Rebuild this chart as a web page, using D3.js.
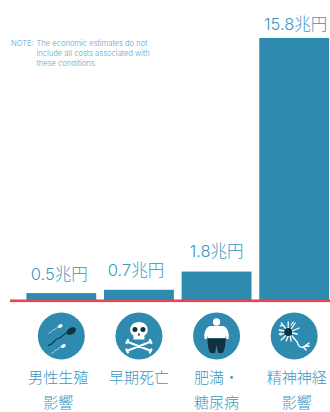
<!DOCTYPE html>
<html lang="ja">
<head>
<meta charset="utf-8">
<style>
html,body{margin:0;padding:0;background:#fff;}
svg{display:block;}
text{font-family:Inter,"Noto Sans CJK JP",sans-serif;}
</style>
<script src="https://cdn.jsdelivr.net/npm/d3@7/dist/d3.min.js"></script>
</head>
<body>
<svg id="chart" width="330" height="412"></svg>
<script>
const categories = ["男性生殖影響", "早期死亡", "肥満・糖尿病", "精神神経影響"];
const categoryLines = [["男性生殖", "影響"], ["早期死亡"], ["肥満・", "糖尿病"], ["精神神経", "影響"]];
const values = [0.5, 0.7, 1.8, 15.8];
const valueLabels = ["0.5兆円", "0.7兆円", "1.8兆円", "15.8兆円"];
const noteLines = ["The economic estimates do not", "include all costs associated with", "these conditions."];

const BLUE = "#2f8ab0", TEXT = "#3a96c2", DARK = "#12303f", RED = "#e8434f";
const baseY = 300, iconY = 336, iconR = 23.5;

const svg = d3.select("#chart");
const x = d3.scaleBand().domain(categories).range([22.5, 333]).paddingInner(0.1).paddingOuter(0.05);
const y = d3.scaleLinear().domain([0, 15.8]).range([baseY, 38]);
const labelNudge = [-2, -3, 0, 1.5];   // hand placement of the value captions
const labelLift = [12, 12, 13, 8];

// bars
svg.selectAll("rect.bar").data(categories).join("rect")
  .attr("class", "bar")
  .attr("x", d => x(d))
  .attr("width", x.bandwidth())
  .attr("y", (d, i) => y(values[i]) + (i < 3 ? 1.4 : 0))
  .attr("height", (d, i) => baseY - y(values[i]) - (i < 3 ? 1.4 : 0))
  .attr("fill", BLUE);

// baseline
svg.append("rect").attr("x", 10).attr("y", 299.5).attr("width", 320).attr("height", 2.6).attr("fill", RED);

// value captions
svg.selectAll("text.value").data(categories).join("text")
  .attr("class", "value")
  .attr("x", (d, i) => x(d) + x.bandwidth() / 2 + labelNudge[i])
  .attr("y", (d, i) => y(values[i]) - labelLift[i])
  .attr("text-anchor", "middle")
  .attr("font-size", 16.5)
  .attr("font-weight", 300)
  .attr("fill", TEXT)
  .text((d, i) => valueLabels[i]);

// explanatory note
const note = svg.append("g").attr("fill", "#5ba6cb").attr("font-size", 7.6).attr("font-weight", 300);
note.append("text").attr("x", 11).attr("y", 46).text("NOTE:");
note.selectAll("text.line").data(noteLines).join("text")
  .attr("class", "line").attr("x", 36.5)
  .attr("y", (d, i) => 46 + i * 10).text(d => d);

// icon discs and glyphs
const icons = svg.selectAll("g.icon").data(categories).join("g")
  .attr("class", "icon")
  .attr("transform", d => `translate(${x(d) + x.bandwidth() / 2},${iconY})`);
icons.append("circle").attr("r", iconR).attr("fill", BLUE);

function sperm(g, tx, ty, s, fill) {
  const n = g.append("g").attr("transform", `translate(${tx},${ty}) scale(${s}) rotate(-30)`);
  n.append("ellipse").attr("rx", 5).attr("ry", 3.3).attr("fill", fill);
  n.append("path").attr("d", "M-3,0C-8,-3 -11,2 -15,0S-22,3 -27,1")
    .attr("fill", "none").attr("stroke", fill).attr("stroke-width", 1.1).attr("stroke-linecap", "round");
}
const spermIcon = icons.filter((d, i) => i === 0);
sperm(spermIcon, 10, -5, 1, DARK);
sperm(spermIcon, -1, -10, 0.5, "#fff");
sperm(spermIcon, 2, 10, 0.5, "#fff");

// skull and crossbones
const skull = icons.filter((d, i) => i === 1);
skull.append("path").attr("fill", "none").attr("stroke", "#fff").attr("stroke-width", 2.2).attr("stroke-linecap", "round")
  .attr("d", "M-11,6L11,14.5M11,6L-11,14.5M-12.5,7L-11,4M12.5,7L11,4M-12.5,13.5L-11,16.5M12.5,13.5L11,16.5");
skull.append("path").attr("fill", "#fff")
  .attr("d", "M0,-14C-6,-14 -8.8,-10 -8.8,-6C-8.8,-3 -7,-1.5 -5.5,-0.5V3.5H5.5V-0.5C7,-1.5 8.8,-3 8.8,-6C8.8,-10 6,-14 0,-14Z");
skull.append("circle").attr("cx", -4).attr("cy", -6.5).attr("r", 2.5).attr("fill", DARK);
skull.append("circle").attr("cx", 4).attr("cy", -6.5).attr("r", 2.5).attr("fill", DARK);
skull.append("path").attr("fill", DARK).attr("d", "M0,-3.5L-1.2,-0.5H1.2Z");

// overweight figure
const fat = icons.filter((d, i) => i === 2);
fat.append("circle").attr("cy", -14).attr("r", 3.7).attr("fill", "#fff");
fat.append("path").attr("fill", "#fff")
  .attr("d", "M-6,-10H6C11,-9 13,-3 12,3H10L9,-1V2H-9V-1L-10,3H-12C-13,-3 -11,-9 -6,-10Z");
fat.append("path").attr("fill", DARK)
  .attr("d", "M-9,2.5H9C9,8 8.5,14 6,17H1.5L0,9L-1.5,17H-6C-8.5,14 -9,8 -9,2.5Z");

// neuron
const neuron = icons.filter((d, i) => i === 3);
neuron.append("path").attr("fill", "none").attr("stroke", "#fff").attr("stroke-width", 1.3).attr("stroke-linecap", "round")
  .attr("d", "M-8,-7L-13,-13M-6,-8L-6,-14M-3,-7L1,-13M-2,-5L5,-8M-2,-3L3,-2M-9,-5L-15,-6M-9,-3L-14,-1M-8,-1L-13,4M-6,0L-8,5M-4,0L-3,5M-2,0L3,6C4,10 6,12 9,11L15,7M9,11L12,14M10,10.5L15,10M-11,-11L-14,-10M-3,-11L-1,-14M-13,-3L-15,-2");
neuron.append("circle").attr("cx", -6).attr("cy", -4).attr("r", 4).attr("fill", DARK);

// category captions below the icons
const captionNudge = [-3, 0, 0, 2.5];
svg.selectAll("text.cat").data(categories).join("text")
  .attr("class", "cat")
  .attr("text-anchor", "middle")
  .attr("font-size", 15)
  .attr("font-weight", 300)
  .attr("fill", TEXT)
  .each(function (d, i) {
    d3.select(this).selectAll("tspan").data(categoryLines[i]).join("tspan")
      .attr("x", x(d) + x.bandwidth() / 2 + captionNudge[i])
      .attr("y", (t, k) => 383 + k * 24.5)
      .text(t => t);
  });
</script>
</body>
</html>
